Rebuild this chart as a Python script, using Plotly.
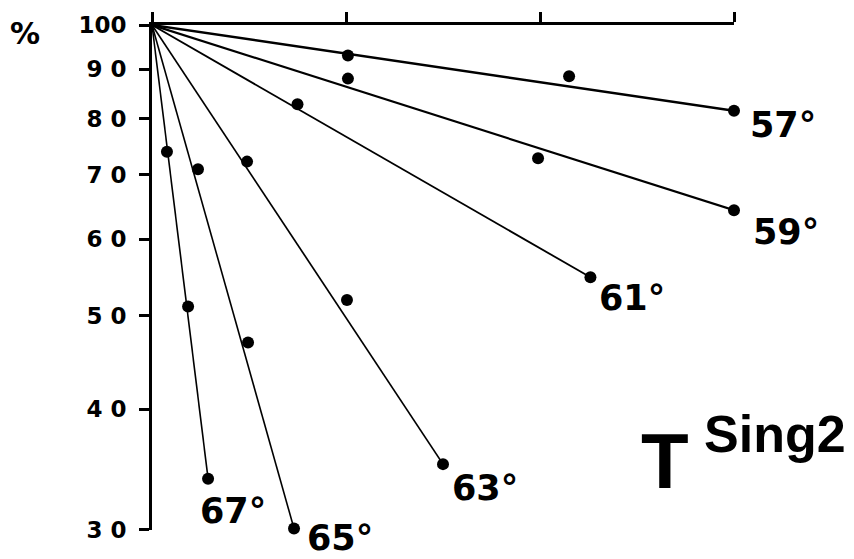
import math
import plotly.graph_objects as go

# Percent remaining vs. time for each temperature series (log-scaled y)
temps = ["57°", "59°", "61°", "63°", "65°", "67°"]

x_57 = [1.01, 2.15, 3.0]
y_57 = [93.0, 88.5, 81.5]

x_59 = [1.01, 1.99, 3.0]
y_59 = [88.0, 72.8, 64.3]

x_61 = [0.75, 2.26]
y_61 = [82.8, 54.8]

x_63 = [0.49, 1.005, 1.50]
y_63 = [72.2, 51.9, 35.1]

x_65 = [0.237, 0.495, 0.732]
y_65 = [70.9, 46.9, 30.1]

x_67 = [0.077, 0.186, 0.289]
y_67 = [73.9, 51.1, 33.9]

series_x = [x_57, x_59, x_61, x_63, x_65, x_67]
series_y = [y_57, y_59, y_61, y_63, y_65, y_67]

y_ticks = [30, 40, 50, 60, 70, 80, 90, 100]
y_tick_text = ["3 0", "4 0", "5 0", "6 0", "7 0", "8 0", "9 0", "100"]
x_ticks = [0, 1, 2, 3]

start_value = 100

# label offsets (pixels) from the last point of each series
label_shift = [(49, -14), (52, -22), (42, -21), (42, -24), (46, -9), (25, -32)]
line_widths = [2.4, 2.2, 1.8, 1.7, 1.6, 1.6]

fig = go.Figure()

for xs, ys, lw in zip(series_x, series_y, line_widths):
    # fitted first-order decay: straight line from 100 % at t=0 to the last point
    fig.add_trace(go.Scatter(
        x=[0, xs[-1]], y=[start_value, ys[-1]],
        mode="lines", line=dict(color="black", width=lw),
        cliponaxis=False, hoverinfo="skip", showlegend=False,
    ))
    fig.add_trace(go.Scatter(
        x=xs, y=ys, mode="markers",
        marker=dict(color="black", size=12),
        cliponaxis=False, showlegend=False,
    ))

annotations = []
for name, xs, ys, (dx, dy) in zip(temps, series_x, series_y, label_shift):
    # annotation y on a log axis is given in log10 units
    annotations.append(dict(
        x=xs[-1], y=math.log10(ys[-1]), xref="x", yref="y", text=name,
        showarrow=False, xshift=dx, yshift=dy, borderpad=0,
        font=dict(family="DejaVu Sans", size=35, color="black", weight="bold"),
    ))

annotations.append(dict(
    x=0, y=1, xref="paper", yref="paper", text="%", showarrow=False,
    xshift=-127, yshift=-8, xanchor="center", yanchor="middle",
    font=dict(family="DejaVu Sans", size=30, color="black", weight="bold"),
))
annotations.append(dict(
    x=0.881, y=0.137, xref="paper", yref="paper", text="T", showarrow=False,
    xanchor="center", yanchor="middle",
    font=dict(family="Liberation Sans", size=78, color="black", weight="bold"),
))
annotations.append(dict(
    x=0.945, y=0.19, xref="paper", yref="paper", text="Sing2", showarrow=False,
    xanchor="left", yanchor="middle",
    font=dict(family="Liberation Sans", size=52, color="black", weight="bold"),
))

fig.update_layout(
    width=854, height=559,
    margin=dict(l=152, r=120, t=25, b=29),
    plot_bgcolor="white", paper_bgcolor="white",
    annotations=annotations,
    xaxis=dict(
        range=[0, 3], side="top", showgrid=False, zeroline=False,
        showline=True, linecolor="black", linewidth=3,
        ticks="outside", tickvals=x_ticks, ticklen=10, tickwidth=3,
        tickcolor="black", showticklabels=False,
    ),
    yaxis=dict(
        type="log", range=[1.4771, 2], showgrid=False, zeroline=False,
        showline=True, linecolor="black", linewidth=3,
        ticks="outside", tickvals=y_ticks, ticktext=y_tick_text,
        ticklen=10, tickwidth=3, tickcolor="black",
        tickfont=dict(family="DejaVu Sans", size=23, color="black", weight="bold"),
        ticklabelstandoff=8,
    ),
)

fig.write_html("out.html")
